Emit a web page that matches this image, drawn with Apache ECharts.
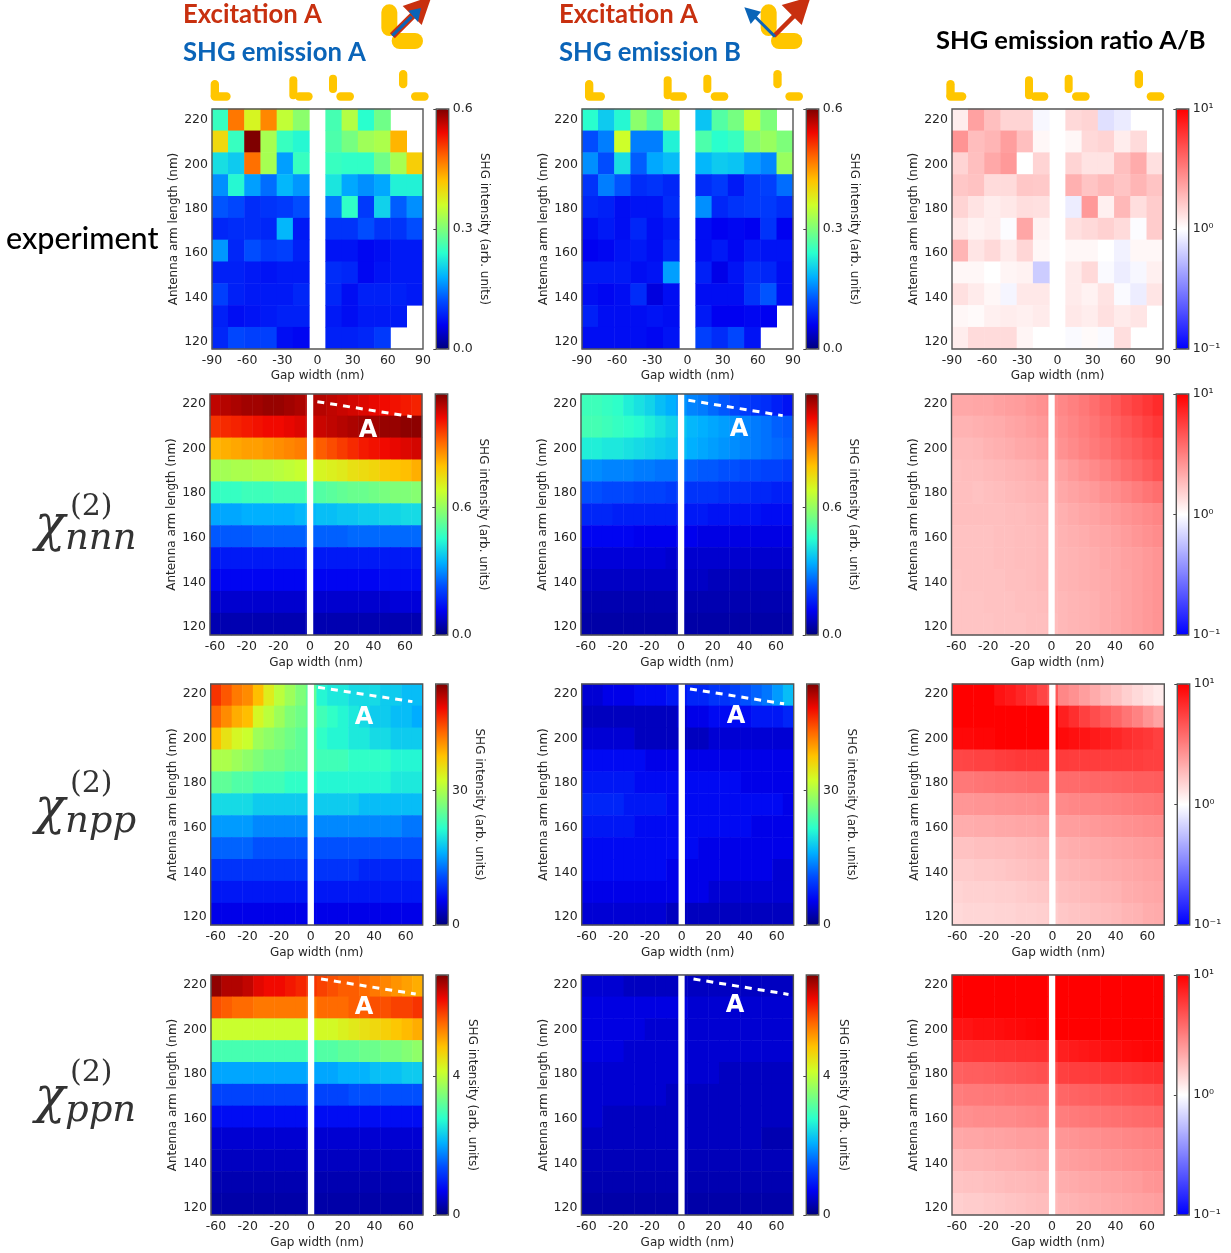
<!DOCTYPE html>
<html><head><meta charset="utf-8">
<style>html,body{margin:0;padding:0;background:#fff}#c{width:1231px;height:1253px}</style>
<script src="https://cdn.jsdelivr.net/npm/echarts@6/dist/echarts.min.js"></script>
</head><body><div id="c"></div>
<script>
// ---------- axes ----------
const armLengths = [120,130,140,150,160,170,180,190,200,210,220];
const armTicks = [120,140,160,180,200,220];
const expGapTicks = [-90,-60,-30,0,30,60,90];
const expGapCells = [-83,-69,-55,-42,-28,-14,0,14,28,42,55,69,83];
const modelGapCells = [-60,-53,-47,-40,-33,-27,-20,-13,-7,0,7,13,20,27,33,40,47,53,60,67];
const modelGapTicks = [-60,-40,-20,0,20,40,60];
const modelGapTickLabels = ["-60","-20","-20","0","20","40","60"];

// ---------- experiment: rows 220 -> 120 ----------
const expA = [
[.25,.47,.37,.46,.35,.31,null,.26,.34,.24,.29,null,null],
[.40,.25,.60,.33,.25,.235,null,.265,.295,.325,.335,.43,null],
[.215,.20,.475,.33,.17,.25,null,.25,.245,.245,.29,.33,.41],
[.16,.235,.17,.14,.185,.165,null,.22,.175,.16,.175,.23,.23],
[.125,.115,.095,.10,.105,.12,null,.145,.245,.105,.205,.13,.16],
[.09,.095,.095,.09,.185,.08,null,.10,.10,.12,.10,.10,.12],
[.165,.09,.12,.105,.11,.085,null,.075,.075,.065,.07,.08,.08],
[.085,.085,.08,.075,.08,.08,null,.095,.09,.065,.075,.08,.08],
[.11,.085,.08,.08,.08,.09,null,.09,.07,.085,.085,.085,.08],
[.085,.07,.075,.08,.085,.085,null,.08,.07,.08,.08,.08,null],
[.09,.115,.11,.11,.07,.065,null,.085,.085,.09,.105,null,null]];
const expB = [
[.24,.20,.235,.31,.275,.34,null,.195,.27,.295,.35,.30,null],
[.12,.15,.36,.15,.15,.23,null,.265,.24,.25,.305,.32,.30],
[.16,.12,.215,.13,.175,.19,null,.185,.20,.195,.17,.155,.32],
[.10,.15,.125,.095,.10,.09,null,.095,.105,.08,.105,.11,.14],
[.09,.085,.07,.075,.075,.095,null,.16,.09,.10,.105,.105,.095],
[.07,.08,.07,.09,.07,.08,null,.07,.06,.065,.06,.10,.06],
[.06,.065,.075,.08,.07,.09,null,.07,.08,.065,.08,.075,.075],
[.08,.08,.08,.07,.075,.17,null,.085,.055,.075,.095,.09,.07],
[.07,.065,.07,.095,.05,.07,null,.07,.07,.07,.10,.125,.07],
[.085,.07,.07,.07,.075,.07,null,.08,.06,.06,.065,.06,null],
[.07,.07,.07,.07,.065,.075,null,.11,.095,.115,.075,null,null]];
// ratios below are log10(A/B) x 100
const expRatio = [
[7,37,25,17,17,-3,null,15,17,-12,-8,null,null],
[42,26,29,38,25,3,null,3,15,17,7,14,null],
[17,25,34,40,0,17,null,17,11,11,25,33,12],
[22,24,14,14,22,21,null,31,23,27,23,29,23],
[17,11,7,9,13,12,null,-7,40,6,28,13,20],
[9,5,7,-1,35,5,null,12,15,18,14,-1,20],
[29,10,15,8,16,3,null,3,3,0,-5,3,3],
[3,3,0,4,5,-20,null,8,15,-2,-7,-3,6],
[12,8,3,-4,9,9,null,8,5,11,-2,-7,10],
[3,2,6,7,6,8,null,9,7,12,8,10,null],
[7,14,14,14,4,0,null,-2,2,-2,13,null,null]];

// ---------- chi nnn (x 0.01) ----------
const nnnA = [
[107,108,109,110,110,111,111,110,109,108,108,107,106,105,104,103,102,101,100,99],
[97,98,99,100,101,102,102,103,104,105,106,107,108,109,110,110,111,111,112,112],
[81,82,83,84,84,85,86,87,88,90,92,94,96,98,100,101,102,103,104,105],
[62,62,63,63,64,64,65,66,67,69,70,71,72,74,75,76,78,79,80,82],
[47,47,47,48,48,48,49,49,49,50,51,52,53,54,54,55,56,57,57,58],
[33,33,33,34,34,34,34,34,35,35,36,36,37,37,38,38,39,39,40,40],
[24,24,24,24,25,25,25,25,25,25,25,25,25,26,26,26,26,26,26,26],
[15,15,15,15,15,15,15,15,15,15,15,15,15,15,15,15,15,15,15,15],
[12,12,12,12,12,12,12,12,12,12,12,12,12,12,12,12,13,13,13,13],
[8,8,8,8,8,8,8,8,8,8,8,8,8,8,8,8,8,9,9,9],
[5,5,5,5,5,5,5,5,5,5,5,5,5,5,5,5,5,5,5,5]];
const nnnB = [
[48,48,47,46,43,41,39,36,34,31,29,28,26,24,22,20,19,18,16,14],
[49,49,48,47,46,45,43,41,39,37,35,34,33,32,31,29,28,27,25,24],
[43,43,42,42,41,40,39,38,37,36,34,33,32,31,30,29,28,27,26,25],
[30,30,29,29,29,28,28,27,27,26,25,24,24,23,23,22,22,21,21,20],
[23,23,22,22,22,21,21,21,20,20,19,19,19,18,18,18,17,17,16,16],
[17,17,17,16,16,16,16,16,16,15,15,15,14,14,14,14,14,13,13,13],
[12,12,12,12,12,11,11,11,11,11,11,10,10,10,10,10,10,10,10,10],
[9,9,9,9,9,9,9,9,8,8,8,8,8,8,8,8,8,8,8,8],
[7,7,7,7,7,7,7,7,7,7,7,7,6,6,6,6,6,6,6,6],
[5,5,5,5,5,5,5,5,5,5,5,5,5,5,5,5,5,5,5,5],
[4,4,4,4,4,4,4,4,4,4,4,4,4,4,4,4,4,4,4,4]];
const nnnRatio = [
[34,34,35,35,37,38,39,41,43,45,47,50,53,57,61,66,71,75,79,83],
[30,30,31,32,33,35,36,38,40,42,45,48,51,54,58,62,66,70,74,78],
[27,27,28,30,31,32,34,35,37,39,43,46,49,52,55,59,62,65,69,72],
[25,26,26,27,28,29,30,31,33,34,37,40,43,46,49,53,57,60,64,68],
[25,25,24,25,26,27,28,29,30,31,34,36,38,40,43,45,48,51,54,57],
[25,25,25,25,25,26,26,27,28,29,31,33,35,36,38,40,42,44,46,48],
[24,24,24,24,25,25,26,26,27,28,30,31,32,34,35,37,39,41,43,45],
[24,24,24,24,25,25,26,26,27,28,29,30,31,32,34,35,37,38,40,42],
[23,24,24,24,24,25,25,26,27,27,29,30,31,32,33,35,36,38,40,42],
[23,23,23,24,24,24,25,25,26,27,28,29,30,31,33,34,36,38,40,42],
[23,23,23,23,24,24,24,25,25,26,28,29,30,31,33,34,36,38,40,42]];

// ---------- chi npp ----------
const nppA = [
[46,44,42,41,38,34,31,29,27,25,21,20,20,19,19,19,18,18,17,17],
[43,41,39,38,33,31,29,27,26,25,23,22,21,20,19,18,18,17,17,16],
[38,35,33,32,29,28,27,26,25,24,22,21,21,20,20,19,19,18,18,18],
[30,30,29,28,27,26,26,25,25,24,23,23,23,22,22,22,22,21,21,21],
[25,25,24,24,23,23,23,22,22,22,21,21,21,21,21,21,21,20,20,20],
[19,19,19,19,18,18,18,18,18,18,18,18,18,18,17,17,17,17,17,17],
[15,15,15,15,14,14,14,14,14,14,14,14,14,14,14,14,14,14,13,13],
[12,12,12,12,11,11,11,11,11,11,11,11,11,11,11,11,11,11,11,11],
[9,9,9,9,9,9,9,9,9,9,9,9,9,9,8,8,8,8,8,8],
[7,7,7,7,7,7,7,7,7,7,7,7,7,7,7,7,7,7,7,7],
[5,5,5,5,5,5,5,5,5,5,5,5,5,5,5,5,5,5,5,5]];
const nppB = [
[4,4,5,5,5,6,6,6,7,7,8,8,9,9,10,11,12,13,15,17],
[3,3,3,3,3,3,3,3,3,4,5,5,6,6,6,6,7,7,7,8],
[4,4,4,4,4,3,3,3,3,3,3,3,4,4,4,4,4,4,4,4],
[6,6,6,6,6,6,5,5,5,5,5,5,5,5,5,5,5,5,5,5],
[7,7,7,7,7,6,6,6,6,6,6,6,6,6,6,5,5,5,5,5],
[8,8,8,8,7,7,7,7,6,6,6,6,6,6,6,6,6,6,6,5],
[7,7,7,7,7,6,6,6,6,6,6,6,6,6,6,6,5,5,5,5],
[6,6,6,6,6,6,6,6,6,6,6,5,5,5,5,5,5,5,5,5],
[6,6,6,6,6,6,6,6,5,5,5,5,5,5,5,5,5,5,4,4],
[5,5,5,5,5,5,5,5,5,5,5,5,4,4,4,4,4,4,4,4],
[4,4,4,4,4,4,4,4,3,3,3,3,3,3,3,3,3,3,3,3]];
const nppRatio = [
[100,100,100,100,93,90,85,80,73,65,47,43,38,33,28,24,19,15,11,8],
[100,100,100,100,100,100,100,100,100,100,88,82,75,70,65,60,54,49,42,36],
[97,97,98,98,100,100,100,100,100,100,96,94,92,90,88,85,82,80,78,75],
[72,73,74,74,76,77,78,78,78,78,77,76,76,76,76,76,76,76,75,75],
[53,53,54,55,56,56,57,58,58,58,58,58,59,60,60,61,62,63,63,64],
[41,41,42,42,43,43,44,44,45,46,46,47,48,48,49,50,51,52,53,54],
[32,32,33,33,34,34,35,35,36,37,38,38,39,40,41,42,43,44,45,46],
[24,24,25,25,26,26,27,28,29,30,31,32,33,34,35,36,37,38,39,40],
[20,20,21,21,22,23,24,25,26,27,28,29,30,31,32,33,34,35,36,37],
[17,18,18,18,19,19,20,21,22,23,25,26,27,28,29,30,32,33,34,35],
[15,16,16,16,17,17,18,18,19,20,22,23,24,25,26,27,29,30,32,33]];

// ---------- chi ppn (x 0.1) ----------
const ppnA = [
[68,66,66,65,63,62,62,61,60,59,58,57,56,56,55,54,53,52,51,50],
[57,56,55,55,54,54,54,54,54,54,55,55,55,56,56,57,57,58,58,59],
[41,41,41,41,41,41,41,41,41,41,42,42,43,44,45,46,47,48,49,50],
[30,30,30,30,30,30,30,30,30,30,31,31,32,32,33,33,34,34,35,36],
[20,20,20,20,20,20,20,20,20,20,20,20,21,21,21,22,22,22,23,23],
[13,13,13,13,13,13,13,13,13,13,13,13,13,14,14,14,14,14,14,14],
[8,8,8,8,8,8,8,8,8,8,8,8,8,8,8,8,8,8,8,8],
[5,5,5,5,5,5,5,5,5,5,5,5,5,5,5,5,5,5,5,5],
[4,4,4,4,4,4,4,4,4,4,4,4,4,4,4,4,4,4,4,4],
[3,3,3,3,3,3,3,3,3,3,3,3,3,3,3,3,3,3,3,3],
[2.5,2.5,2.5,2.5,2.5,2.5,2.5,2.5,2.5,2.5,2.5,2.5,2.5,2.5,2.5,2.5,2.5,2.5,2.5,2.5]];
const ppnB = [
[5,5,5,5,4,4,4,4,4,4,4,4,4,4,4,4,4,4,4,4],
[6,6,6,6,6,6,6,6,6,6,5,5,5,5,5,5,5,5,5,5],
[6,6,6,6,6,6,5,5,5,5,5,5,5,5,5,5,5,5,5,5],
[6,6,6,6,5,5,5,5,5,5,5,5,5,5,5,5,5,5,5,5],
[5,5,5,5,5,5,5,5,5,5,5,5,5,4,4,4,4,4,4,4],
[5,5,5,5,5,5,5,5,4,4,4,4,4,4,4,4,4,4,4,4],
[5,5,4,4,4,4,4,4,4,4,4,4,4,4,4,4,4,4,4,4],
[4,4,4,4,4,4,4,4,4,4,4,4,4,4,4,4,4,3,3,3],
[3.5,3.5,3.5,3.5,3.5,3.5,3.5,3.5,3.5,3.5,3.5,3.5,3.5,3.5,3.5,3.5,3.5,3.5,3.5,3.5],
[3,3,3,3,3,3,3,3,3,3,3,3,3,3,3,3,3,3,3,3],
[2.5,2.5,2.5,2.5,2.5,2.5,2.5,2.5,2.5,2.5,2.5,2.5,2.5,2.5,2.5,2.5,2.5,2.5,2.5,2.5]];
const ppnRatio = [
[100,100,100,100,100,100,100,100,100,100,100,100,100,100,100,100,100,100,100,100],
[100,100,100,100,100,100,100,100,100,100,100,100,100,100,100,100,100,100,100,100],
[92,92,94,94,95,96,97,98,99,100,100,100,100,100,100,100,100,100,100,100],
[78,78,79,79,80,80,81,81,82,82,88,90,91,92,94,95,96,97,98,98],
[62,63,63,64,65,66,67,68,69,70,75,76,76,77,78,79,79,80,81,82],
[51,52,52,53,53,54,54,55,55,56,60,61,62,63,64,65,66,67,68,70],
[44,44,45,45,46,46,47,48,49,50,51,52,53,54,55,56,57,58,59,60],
[34,35,35,36,36,37,38,38,39,40,41,42,43,44,45,46,47,48,49,50],
[28,29,29,30,31,31,32,33,34,35,37,38,39,40,41,42,43,44,45,46],
[23,24,24,25,26,27,27,28,29,30,32,33,34,35,36,37,38,39,41,42],
[19,20,20,21,22,23,24,25,26,27,29,30,31,32,33,34,35,36,37,38]];

// dashed guide lines: [gap0, arm0, gap1, arm1]
const guideNnnA=[4.6,221.05,64.2,214.3], guideNnnB=[4.6,221.7,64.2,214.8];
const guideNppA=[4.6,223,64.2,216.6], guideNppB=[5.2,222.3,64.6,215.6];
const guidePpnA=[6.3,222.7,66.1,216], guidePpnB=[7.6,222.7,67.6,215.8];

const JET=['#00007f','#0000f1','#004cff','#00b0ff','#29ffce','#7dff7a','#ceff29','#ffc400','#ff6800','#f10800','#7f0000'];
const BWR=['#0000ff','#ffffff','#ff0000'];
const TXT='#262626', FONT='"DejaVu Sans"';

const cfg=[
 {t:109,h:240,gl:[212,582,952],w:211,cb:[436.3,806.3,1176.3],m:.6,tk:[0,.3,.6],fmt:v=>v.toFixed(1),nx:[478,848],rows:[expA,expB,expRatio],u:1,exp:true,guides:[],yr:[116.85,224.95],ng:21},
 {t:394,h:241,gl:[210,581,951.5],w:212,cb:[435.3,805.7,1176.3],m:1.134,tk:[0,.6],fmt:v=>v.toFixed(1),nx:[477,847],rows:[nnnA,nnnB,nnnRatio],u:.01,guides:[guideNnnA,guideNnnB],yr:[116.4,224.5],ng:22},
 {t:684,h:241,gl:[210.7,581.7,952.3],w:212,cb:[435.7,806.7,1177.3],m:53.8,tk:[0,30],fmt:v=>String(v),nx:[473,845],rows:[nppA,nppB,nppRatio],u:1,guides:[guideNppA,guideNppB],yr:[116.4,224.5],ng:22},
 {t:975,h:240,gl:[211,581.4,952],w:212,cb:[436,806.3,1176.8],m:6.9,tk:[0,4],fmt:v=>String(v),nx:[466,837],rows:[ppnA,ppnB,ppnRatio],u:.1,guides:[guidePpnA,guidePpnB],yr:[116.86,224.5],ng:22},
];

const grid=[],xAxis=[],yAxis=[],series=[],visualMap=[],graphic=[];
const axisText={color:TXT,fontFamily:FONT,fontSize:12.5};
const nameStyle={color:TXT,fontFamily:FONT,fontSize:12};

cfg.forEach((R)=>{
 R.rows.forEach((rows,c)=>{
  const isRatio=c===2;
  const g=grid.length;
  const left=R.gl[c];
  grid.push({left:left,top:R.t,width:R.w,height:R.h,containLabel:false,show:false});
  const xi=xAxis.length, yi=yAxis.length;
  const cells=R.exp?expGapCells:modelGapCells;
  xAxis.push({gridIndex:g,type:'category',data:cells.map(String),show:false,boundaryGap:true});
  const ticks=R.exp?expGapTicks:modelGapTicks;
  xAxis.push({gridIndex:g,type:'value',min:R.exp?-90:-63.2,max:R.exp?90:70.7,position:'bottom',
    splitLine:{show:false},axisLine:{show:false},axisTick:{show:false},
    axisLabel:Object.assign({},axisText,{margin:5,hideOverlap:false,showMinLabel:true,showMaxLabel:true,customValues:ticks,
      formatter:v=>R.exp?String(v):modelGapTickLabels[modelGapTicks.indexOf(v)]}),
    name:'Gap width (nm)',nameLocation:'middle',nameGap:R.ng,nameTextStyle:nameStyle});
  yAxis.push({gridIndex:g,type:'category',data:armLengths.map(String),boundaryGap:true,show:false});
  yAxis.push({gridIndex:g,type:'value',min:R.yr[0],max:R.yr[1],position:'left',
    axisLine:{show:false},axisTick:{show:false},splitLine:{show:false},
    axisLabel:Object.assign({},axisText,{margin:4,hideOverlap:false,customValues:armTicks}),
    name:'Antenna arm length (nm)',nameLocation:'middle',nameGap:28,nameRotate:90,nameTextStyle:nameStyle});
  const data=[];
  rows.forEach((row,r)=>row.forEach((v,k)=>{
    if(v==null)return;
    data.push([k,10-r,isRatio?v/100:v*R.u]);
  }));
  const si=series.length;
  series.push({type:'heatmap',xAxisIndex:xi,yAxisIndex:yi,data:data,silent:true,progressive:0,animation:false,
    itemStyle:{borderWidth:0},emphasis:{disabled:true}});
  if(!R.exp){
    const G=R.guides[c];
    series.push({type:'line',xAxisIndex:xi+1,yAxisIndex:yi+1,z:5,silent:true,animation:false,symbol:'none',
      data:G?[[G[0],G[1]],[G[2],G[3]]]:[],
      lineStyle:{color:'#fff',width:3,type:[7,6]},
      markArea:{silent:true,z:4,itemStyle:{color:'#fff',opacity:1},data:[[{xAxis:-2,yAxis:R.yr[0]},{xAxis:2,yAxis:R.yr[1]}]]}});
  }
  const maxv=isRatio?1:R.m, minv=isRatio?-1:0;
  visualMap.push({type:'continuous',seriesIndex:si,dimension:2,min:minv,max:maxv,show:true,calculable:false,realtime:false,
    left:R.cb[c],top:R.t,itemWidth:12.4,itemHeight:R.h,padding:0,text:null,showLabel:false,hoverLink:false,
    inRange:{color:isRatio?BWR:JET},outOfRange:{color:'#fff'},textStyle:{color:'transparent',fontSize:1}});
  // colourbar axis (grid without marks, only carries ticks and labels)
  const cg=grid.length;
  grid.push({left:R.cb[c],top:R.t,width:12.4,height:R.h,show:false});
  xAxis.push({gridIndex:cg,type:'value',min:0,max:1,show:false});
  const cTicks=isRatio?[-1,0,1]:R.tk;
  const yopt={gridIndex:cg,type:'value',min:minv,max:maxv,position:'right',z:20,
    splitLine:{show:false},axisLine:{show:false},
    axisTick:{show:true,inside:true,length:3,lineStyle:{color:'#444',width:1},customValues:cTicks},
    axisLabel:Object.assign({},axisText,{margin:4,hideOverlap:false,customValues:cTicks,showMinLabel:true,showMaxLabel:true,
      formatter:isRatio?(v=>v===1?'10¹':v===0?'10⁰':'10⁻¹'):R.fmt})};
  if(!isRatio){
    Object.assign(yopt,{name:'SHG intensity (arb. units)',nameLocation:'middle',nameRotate:-90,
      nameGap:R.nx[c]-(R.cb[c]+12.4),nameTextStyle:nameStyle});
  }
  yAxis.push(yopt);
  // frames
  const frame=(x,y,w,h)=>graphic.push({type:'rect',z:100,silent:true,shape:{x,y,width:w,height:h},style:{fill:null,stroke:'#555',lineWidth:1.4}});
  frame(left,R.t,R.w,R.h);
  frame(R.cb[c],R.t,12.4,R.h);
 });
});

// --- decoration: antenna icons, arrows, headings ---
const GOLD='#ffc600', RED='#c8300f', BLUE='#0a64b8';
const pill=(x0,y0,x1,y1)=>graphic.push({type:'rect',z:50,silent:true,
  shape:{x:x0,y:y0,width:x1-x0,height:y1-y0,r:Math.min(x1-x0,y1-y0)/2},style:{fill:GOLD}});
const smallIcons=[[[152,240,177,300],[152,277,212,302]],[[388,229,412,298],[405,277,458,302]],
  [[507,224,531,279],[529,277,582,302]],[[717,210,742,265],[753,277,806,302]]];
[[160,0],[530,13],[900,-13]].forEach(([o,d])=>smallIcons.forEach(ic=>ic.forEach(p=>
  pill(o+(p[0]+d)/3,p[1]/3,o+(p[2]+d)/3,p[3]/3))));
const z3=(o,pts)=>pts.map(p=>[o+p[0]/3,p[1]/3]);
const line=(o,a,b,col,w)=>graphic.push({type:'line',z:60,silent:true,shape:{x1:o+a[0]/3,y1:a[1]/3,x2:o+b[0]/3,y2:b[1]/3},style:{stroke:col,lineWidth:w}});
const tri=(o,pts,col)=>graphic.push({type:'polygon',z:60,silent:true,shape:{points:z3(o,pts)},style:{fill:col}});
// icon 1
pill(160+664/3,13/3,160+712/3,108/3); pill(160+695/3,99/3,160+789/3,147/3);
line(160,[697,107],[775,30],RED,7); tri(160,[[728,18],[815,-12],[785,75]],RED);
line(160,[697,107],[755,50],BLUE,3.2); tri(160,[[745,32],[783,24],[774,66]],BLUE);
// icon 2
pill(530+692/3,13/3,530+740/3,108/3); pill(530+723/3,99/3,530+817/3,147/3);
line(530,[732,108],[800,40],RED,4.5); tri(530,[[755,15],[842,-10],[815,75]],RED);
line(530,[735,110],[670,45],BLUE,3); tri(530,[[643,22],[693,35],[662,72]],BLUE);

const label=(text,x,y,font,fill,extra)=>graphic.push({type:'text',z:70,silent:true,style:Object.assign({text,x,y,font,fill,textVerticalAlign:'middle',verticalAlign:'middle'},extra||{})});
const HEAD='bold 25.7px Lato';
label('Excitation A',183,15,HEAD,RED); label('SHG emission A',183,53,HEAD,BLUE);
label('Excitation A',559,15,HEAD,RED); label('SHG emission B',559,53,HEAD,BLUE);
label('SHG emission ratio A/B',936,41,'bold 25.5px Lato','#000');
label('experiment',6,239,'500 30.5px Lato','#000');
[[368,431],[739,430],[364,718],[736,717],[364,1008],[735,1006]].forEach(p=>
  label('A',p[0],p[1],'bold 24px "DejaVu Sans"','#fff',{align:'center',textAlign:'center'}));
// chi labels
[['nnn',0,0],['npp',277,283],['ppn',566,572]].forEach(([s,d1,d2])=>{
  label('χ',35,527+d2,'italic 50px "DejaVu Serif"','#333');
  label('(2)',70,507+d1,'30px "DejaVu Serif"','#333');
  label(s,65,539+d2,'italic 37px "DejaVu Serif"','#333');
});

const chart=echarts.init(document.getElementById('c'),null,{renderer:'canvas',width:1231,height:1253});
chart.setOption({animation:false,backgroundColor:'#fff',tooltip:{show:false},grid,xAxis,yAxis,series,visualMap,graphic});
</script></body></html>
